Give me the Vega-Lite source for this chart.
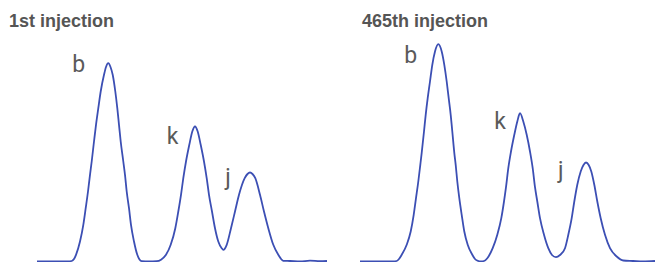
{
  "$schema": "https://vega.github.io/schema/vega-lite/v6.json",
  "padding": {"left": 0, "top": 12.5, "right": 0, "bottom": 0},
  "spacing": 0,
  "bounds": "flush",
  "background": "white",
  "config": {
    "view": {"stroke": null},
    "title": {"font": "Liberation Sans", "fontSize": 18, "fontWeight": "bold", "color": "#555555", "anchor": "start", "frame": "group", "baseline": "alphabetic", "offset": 1}
  },
  "datasets": {
    "first": [
      {"time": 37, "signal": 0}, {"time": 55, "signal": 0}, {"time": 68, "signal": 0}, {"time": 71.7, "signal": 0.5},
      {"time": 74, "signal": 2.5}, {"time": 76, "signal": 6.7}, {"time": 80, "signal": 20}, {"time": 83.3, "signal": 36.7},
      {"time": 85.7, "signal": 53.3}, {"time": 88, "signal": 70}, {"time": 90, "signal": 86.7}, {"time": 91.7, "signal": 100},
      {"time": 94, "signal": 120}, {"time": 96, "signal": 136.7}, {"time": 98.3, "signal": 153.3}, {"time": 100.7, "signal": 170},
      {"time": 104, "signal": 186.7}, {"time": 106, "signal": 194.5}, {"time": 108.3, "signal": 198.3}, {"time": 110.5, "signal": 194.5},
      {"time": 112.7, "signal": 186.7}, {"time": 115.3, "signal": 170}, {"time": 117.3, "signal": 153.3}, {"time": 119, "signal": 136.7},
      {"time": 120.7, "signal": 120}, {"time": 123.3, "signal": 100}, {"time": 125, "signal": 86.7}, {"time": 126.7, "signal": 70},
      {"time": 129, "signal": 53.3}, {"time": 131, "signal": 36.7}, {"time": 134, "signal": 20}, {"time": 137.3, "signal": 6.7},
      {"time": 139.5, "signal": 2}, {"time": 141.7, "signal": 0.3}, {"time": 149, "signal": 0}, {"time": 156.7, "signal": 0.3},
      {"time": 161, "signal": 1.8}, {"time": 166, "signal": 6.7}, {"time": 170.7, "signal": 16.7}, {"time": 175.3, "signal": 33.3},
      {"time": 178.3, "signal": 50}, {"time": 181, "signal": 66.7}, {"time": 183.3, "signal": 83.3}, {"time": 186, "signal": 100},
      {"time": 189.3, "signal": 116.7}, {"time": 192.3, "signal": 130}, {"time": 195, "signal": 135}, {"time": 197.7, "signal": 130},
      {"time": 200.7, "signal": 116.7}, {"time": 204, "signal": 100}, {"time": 206.7, "signal": 83.3}, {"time": 209, "signal": 66.7},
      {"time": 212, "signal": 50}, {"time": 215, "signal": 33.3}, {"time": 218.3, "signal": 20}, {"time": 221.7, "signal": 13.3},
      {"time": 223.3, "signal": 11.7}, {"time": 226.7, "signal": 16.7}, {"time": 231, "signal": 33.3}, {"time": 235, "signal": 50},
      {"time": 239, "signal": 66.7}, {"time": 244.7, "signal": 83.3}, {"time": 247.5, "signal": 87.5}, {"time": 250, "signal": 89},
      {"time": 252.5, "signal": 87.5}, {"time": 255.3, "signal": 83.3}, {"time": 260, "signal": 66.7}, {"time": 264, "signal": 50},
      {"time": 268.3, "signal": 33.3}, {"time": 273.3, "signal": 16.7}, {"time": 278.3, "signal": 6.7}, {"time": 283.3, "signal": 0.7},
      {"time": 290, "signal": 0.5}, {"time": 300, "signal": 0}, {"time": 310, "signal": 0.8}, {"time": 320, "signal": 0.3},
      {"time": 327, "signal": 0.5}
    ],
    "last": [
      {"time": 32, "signal": 0}, {"time": 50, "signal": 0}, {"time": 65, "signal": 0}, {"time": 68.7, "signal": 0.5},
      {"time": 71, "signal": 2.5}, {"time": 73.7, "signal": 6.7}, {"time": 78.7, "signal": 16.7}, {"time": 82.7, "signal": 30},
      {"time": 85.7, "signal": 46.7}, {"time": 88, "signal": 63.3}, {"time": 90.3, "signal": 80}, {"time": 92.3, "signal": 96.7},
      {"time": 93.7, "signal": 108.7}, {"time": 96, "signal": 130}, {"time": 97.7, "signal": 146.7}, {"time": 99.7, "signal": 163.3},
      {"time": 102, "signal": 180}, {"time": 104.3, "signal": 196.7}, {"time": 107, "signal": 210}, {"time": 110.3, "signal": 217.3},
      {"time": 113.7, "signal": 210}, {"time": 116.3, "signal": 196.7}, {"time": 118.7, "signal": 180}, {"time": 120.7, "signal": 163.3},
      {"time": 122.7, "signal": 146.7}, {"time": 124.3, "signal": 130}, {"time": 126.3, "signal": 108.7}, {"time": 127.7, "signal": 96.7},
      {"time": 129.3, "signal": 80}, {"time": 131.3, "signal": 63.3}, {"time": 133.7, "signal": 46.7}, {"time": 136.3, "signal": 30},
      {"time": 139.7, "signal": 16.7}, {"time": 144.3, "signal": 6.7}, {"time": 147, "signal": 2.5}, {"time": 150.3, "signal": 0.5},
      {"time": 153, "signal": 0}, {"time": 156, "signal": 0.5}, {"time": 159.3, "signal": 3.3}, {"time": 164.7, "signal": 13.3},
      {"time": 169.3, "signal": 26.7}, {"time": 173.3, "signal": 43.3}, {"time": 176, "signal": 60}, {"time": 178, "signal": 74.3},
      {"time": 180.3, "signal": 93.3}, {"time": 183, "signal": 110}, {"time": 186.3, "signal": 126.7}, {"time": 189.3, "signal": 140},
      {"time": 192, "signal": 148.3}, {"time": 195.3, "signal": 140}, {"time": 198.7, "signal": 126.7}, {"time": 202, "signal": 110},
      {"time": 204.7, "signal": 93.3}, {"time": 207, "signal": 74.3}, {"time": 209.3, "signal": 60}, {"time": 212, "signal": 43.3},
      {"time": 216, "signal": 26.7}, {"time": 220.3, "signal": 13.3}, {"time": 224, "signal": 6.5}, {"time": 228, "signal": 4.3},
      {"time": 232, "signal": 6.5}, {"time": 237, "signal": 13.3}, {"time": 240.3, "signal": 26.7}, {"time": 243.7, "signal": 43.3},
      {"time": 246.3, "signal": 60}, {"time": 249.3, "signal": 76.7}, {"time": 252.7, "signal": 90}, {"time": 255.5, "signal": 96.5},
      {"time": 258, "signal": 99}, {"time": 260.7, "signal": 96.5}, {"time": 263.3, "signal": 90}, {"time": 266.3, "signal": 76.7},
      {"time": 269.3, "signal": 60}, {"time": 272.7, "signal": 43.3}, {"time": 277, "signal": 26.7}, {"time": 282, "signal": 13.3},
      {"time": 288.7, "signal": 5}, {"time": 295.3, "signal": 1}, {"time": 305, "signal": 0.5}, {"time": 315, "signal": 0},
      {"time": 327, "signal": 0.5}
    ],
    "labels": [
      {"panel": "first", "peak": "b", "time": 78.7, "signal": 189.8},
      {"panel": "first", "peak": "k", "time": 172.5, "signal": 117.8},
      {"panel": "first", "peak": "j", "time": 228, "signal": 76.8},
      {"panel": "last", "peak": "b", "time": 82.8, "signal": 198.8},
      {"panel": "last", "peak": "k", "time": 172, "signal": 132.2},
      {"panel": "last", "peak": "j", "time": 232.8, "signal": 83.5}
    ]
  },
  "hconcat": [
    {
      "width": 328,
      "height": 230,
      "title": {"text": "1st injection", "dx": 9},
      "layer": [
        {
          "data": {"name": "first"},
          "mark": {"type": "line", "interpolate": "monotone", "color": "#3c4fb4", "strokeWidth": 1.8},
          "encoding": {
            "x": {"field": "time", "type": "quantitative", "scale": {"domain": [0, 328], "nice": false, "zero": false}, "axis": null},
            "y": {"field": "signal", "type": "quantitative", "scale": {"domain": [0, 230], "nice": false}, "axis": null}
          }
        },
        {
          "data": {"name": "labels"},
          "transform": [{"filter": "datum.panel == 'first'"}],
          "mark": {"type": "text", "font": "Roboto", "fontSize": 23, "color": "#5a5a5a", "align": "center", "baseline": "alphabetic"},
          "encoding": {
            "x": {"field": "time", "type": "quantitative"},
            "y": {"field": "signal", "type": "quantitative"},
            "text": {"field": "peak"}
          }
        }
      ]
    },
    {
      "width": 329,
      "height": 230,
      "title": {"text": "465th injection", "dx": 34},
      "layer": [
        {
          "data": {"name": "last"},
          "mark": {"type": "line", "interpolate": "monotone", "color": "#3c4fb4", "strokeWidth": 1.8},
          "encoding": {
            "x": {"field": "time", "type": "quantitative", "scale": {"domain": [0, 329], "nice": false, "zero": false}, "axis": null},
            "y": {"field": "signal", "type": "quantitative", "scale": {"domain": [0, 230], "nice": false}, "axis": null}
          }
        },
        {
          "data": {"name": "labels"},
          "transform": [{"filter": "datum.panel == 'last'"}],
          "mark": {"type": "text", "font": "Roboto", "fontSize": 23, "color": "#5a5a5a", "align": "center", "baseline": "alphabetic"},
          "encoding": {
            "x": {"field": "time", "type": "quantitative"},
            "y": {"field": "signal", "type": "quantitative"},
            "text": {"field": "peak"}
          }
        }
      ]
    }
  ]
}
